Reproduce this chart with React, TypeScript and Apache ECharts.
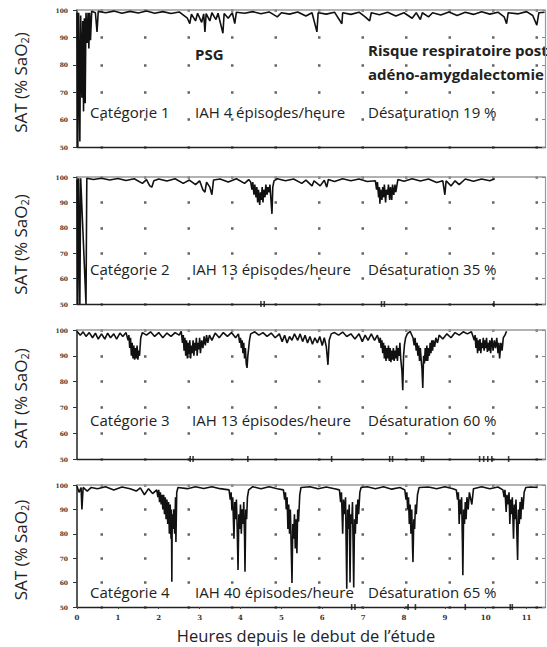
import { useEffect, useRef } from "react";
import * as echarts from "echarts";

const HOUR_MAX = 11.45;
const SAT_MIN = 50;
const SAT_MAX = 100;
const SAT_STEP = 10;

const CATEGORIES = ["Catégorie 1", "Catégorie 2", "Catégorie 3", "Catégorie 4"];
const IAH = ["IAH 4 épisodes/heure", "IAH 13 épisodes/heure", "IAH 13 épisodes/heure", "IAH 40 épisodes/heure"];
const DESAT = ["Désaturation 19 %", "Désaturation 35 %", "Désaturation 60 %", "Désaturation 65 %"];
const HEAD_LEFT = "PSG";
const HEAD_RIGHT = ["Risque respiratoire post", "adéno-amygdalectomie"];
const Y_TITLE = "SAT (% SaO{sub|2})";
const X_TITLE = "Heures depuis le debut de l’étude";

// [hour, SaO2 %]
const TRACE_1: [number, number][] = [
  [0, 99], [0.02, 50], [0.04, 99], [0.07, 52], [0.09, 98], [0.12, 68], [0.14, 96], [0.16, 63], [0.18, 97], [0.2, 66],
  [0.22, 99], [0.25, 88], [0.27, 99], [0.29, 86], [0.31, 99], [0.33, 89], [0.36, 99.5], [0.45, 99], [0.49, 92], [0.52, 99.5],
  [0.7, 99], [0.9, 99.6], [1.1, 98.8], [1.3, 99.5], [1.5, 98.9], [1.7, 99.6], [1.9, 98.8], [2.1, 99.4], [2.3, 98.7], [2.5, 99.3],
  [2.7, 97], [2.76, 95], [2.8, 98.5], [2.9, 96], [2.95, 98.8], [3.05, 95.5], [3.1, 98.6], [3.13, 92], [3.16, 98.7], [3.25, 96],
  [3.3, 99], [3.4, 96.5], [3.45, 98.8], [3.57, 91.5], [3.6, 98.7], [3.7, 97], [3.8, 99], [3.86, 95], [3.9, 99.2], [4.1, 98.8],
  [4.3, 99.4], [4.5, 98.6], [4.7, 99.3], [4.9, 97.5], [5.0, 99], [5.2, 98.5], [5.4, 99.3], [5.6, 97.8], [5.75, 99], [5.87, 92],
  [5.9, 99], [6.1, 98.5], [6.3, 99.2], [6.48, 95], [6.5, 99], [6.7, 98.4], [6.9, 99.2], [7.05, 97.5], [7.16, 96], [7.2, 99],
  [7.4, 98.3], [7.6, 99.2], [7.8, 97.8], [8.0, 99], [8.2, 97], [8.3, 99], [8.4, 96.5], [8.45, 99], [8.6, 97.5], [8.7, 99],
  [8.9, 98.2], [9.1, 99.3], [9.3, 98], [9.5, 99.2], [9.7, 98.4], [9.9, 99.4], [10.1, 98.5], [10.3, 99.2], [10.45, 97.5], [10.51, 95],
  [10.55, 99], [10.8, 98.6], [11.0, 99.4], [11.15, 98], [11.25, 94.5], [11.3, 99], [11.44, 99.2],
];

const TRACE_2: [number, number][] = [
  [0, 99], [0.02, 50], [0.04, 99.5], [0.07, 50], [0.09, 99.5], [0.22, 50], [0.24, 99.5], [0.4, 99], [0.6, 99.5], [0.8, 98.8],
  [1.0, 99.4], [1.2, 98.6], [1.4, 99.3], [1.6, 97.5], [1.7, 99], [1.78, 96.5], [1.83, 96], [1.88, 98.5], [2.0, 99.2], [2.2, 98.4],
  [2.4, 99.3], [2.6, 97.5], [2.75, 98.8], [2.9, 97], [3.0, 98.5], [3.08, 95], [3.13, 94], [3.17, 98], [3.25, 96], [3.3, 93],
  [3.34, 98.8], [3.5, 99.2], [3.7, 98], [3.9, 99.3], [4.1, 97.5], [4.2, 99],
  [4.25, 98], [4.28, 95], [4.3, 98], [4.33, 93], [4.35, 97], [4.38, 92], [4.4, 96], [4.42, 90], [4.44, 95], [4.47, 89],
  [4.49, 94], [4.51, 91], [4.53, 96], [4.55, 90], [4.57, 95], [4.6, 92], [4.62, 97], [4.65, 93], [4.67, 96], [4.7, 94],
  [4.72, 97], [4.75, 90], [4.77, 85.5], [4.79, 96], [4.82, 98.5],
  [4.9, 99.3], [5.1, 98.5], [5.3, 99.2], [5.5, 97.5], [5.6, 98.8], [5.75, 96.5], [5.8, 98.5], [5.95, 96.5], [6.05, 98.7], [6.11, 96],
  [6.15, 99], [6.3, 98.2], [6.5, 99.3], [6.7, 98.5], [6.9, 99.2], [7.1, 98.2],
  [7.3, 98.5], [7.33, 95], [7.35, 98], [7.38, 92], [7.4, 96], [7.41, 89.5], [7.43, 95], [7.46, 91], [7.48, 96], [7.5, 92],
  [7.52, 97], [7.55, 90], [7.57, 95], [7.6, 93], [7.62, 97], [7.65, 91], [7.67, 96], [7.7, 91], [7.72, 97], [7.75, 93],
  [7.78, 97], [7.8, 94], [7.85, 99],
  [8.0, 98.3], [8.2, 99.3], [8.4, 98.4], [8.6, 99.2], [8.8, 97.8], [8.95, 98.5], [9.0, 93], [9.03, 98.5], [9.15, 96.5], [9.25, 98.5],
  [9.35, 97], [9.5, 99.2], [9.7, 98.3], [9.9, 99.2], [10.1, 98.5], [10.22, 99.3],
];

const TRACE_3: [number, number][] = [
  [0, 99.5], [0.08, 98], [0.15, 99.3], [0.22, 97.5], [0.3, 99], [0.38, 97], [0.45, 98.8], [0.52, 96.5], [0.6, 98.5], [0.68, 96.5],
  [0.75, 98.8], [0.82, 97], [0.9, 98.5], [0.97, 96.5], [1.05, 98.8], [1.12, 97.5], [1.2, 99],
  [1.25, 96], [1.27, 98], [1.29, 93], [1.31, 97], [1.33, 90], [1.35, 95], [1.37, 89], [1.39, 94], [1.41, 88.5], [1.43, 93],
  [1.45, 89], [1.47, 94], [1.49, 88.5], [1.51, 92], [1.53, 90], [1.56, 97], [1.6, 99],
  [1.7, 98], [1.8, 99.3], [1.9, 97.5], [2.0, 99], [2.1, 97], [2.2, 98.8], [2.3, 97.5], [2.4, 99], [2.5, 98], [2.55, 99.5],
  [2.58, 95], [2.6, 98], [2.62, 92], [2.64, 97], [2.66, 90], [2.68, 96], [2.7, 89], [2.72, 95], [2.74, 90.5], [2.76, 96],
  [2.78, 89], [2.8, 94], [2.82, 91], [2.84, 96], [2.86, 90], [2.88, 95], [2.9, 92], [2.92, 97], [2.94, 90], [2.96, 95],
  [2.98, 92.5], [3.0, 97], [3.02, 91], [3.05, 96], [3.08, 93], [3.11, 97.5], [3.14, 94], [3.17, 98], [3.2, 95], [3.24, 98],
  [3.3, 96], [3.38, 98.8], [3.48, 97], [3.58, 99], [3.68, 97.5], [3.78, 99], [3.88, 97], [3.95, 98.5],
  [3.98, 95], [4.0, 97], [4.02, 93], [4.04, 96], [4.06, 91], [4.08, 95], [4.1, 89], [4.12, 93], [4.14, 87], [4.16, 85.3],
  [4.18, 90], [4.2, 93], [4.22, 96], [4.25, 98.5],
  [4.35, 99.3], [4.45, 98], [4.55, 99], [4.65, 97.5], [4.75, 98.8], [4.85, 97], [4.95, 98.5], [5.02, 95.5], [5.08, 98], [5.14, 95],
  [5.2, 97.5], [5.26, 96], [5.32, 98.5], [5.4, 96], [5.46, 98.5], [5.52, 95.5], [5.58, 98], [5.64, 95], [5.7, 97.5], [5.76, 94.5],
  [5.82, 97], [5.88, 95], [5.94, 97.5], [6.0, 94], [6.05, 97], [6.1, 93.5], [6.14, 86.5], [6.17, 96], [6.22, 98.5],
  [6.3, 99], [6.4, 98], [6.5, 99.2], [6.6, 97.5], [6.7, 98.5], [6.8, 96.5], [6.9, 98.5], [6.98, 95.5], [7.05, 98], [7.12, 96],
  [7.2, 98.5], [7.28, 96], [7.35, 98],
  [7.4, 95], [7.42, 97], [7.44, 93], [7.46, 96], [7.48, 91], [7.5, 95], [7.52, 89], [7.54, 94], [7.56, 88], [7.58, 93],
  [7.6, 89], [7.62, 94], [7.64, 88], [7.66, 93], [7.68, 87.5], [7.7, 92], [7.72, 88.5], [7.74, 93], [7.76, 88], [7.78, 92],
  [7.8, 89], [7.82, 94], [7.84, 88], [7.86, 93], [7.88, 90], [7.9, 95], [7.92, 89], [7.95, 84], [7.97, 76.7], [7.99, 90],
  [8.01, 94], [8.04, 97], [8.08, 98.5], [8.15, 99.5],
  [8.22, 97], [8.25, 94], [8.27, 97], [8.3, 92], [8.32, 95], [8.34, 90], [8.36, 94], [8.38, 88], [8.4, 93], [8.42, 88.5],
  [8.44, 85], [8.46, 77.5], [8.48, 90], [8.5, 87], [8.52, 93], [8.54, 88], [8.56, 94], [8.58, 88], [8.6, 93], [8.62, 90],
  [8.64, 95], [8.66, 91], [8.68, 96], [8.7, 92], [8.72, 96], [8.75, 93.5], [8.78, 97], [8.82, 95], [8.86, 98],
  [8.95, 96.5], [9.05, 98.5], [9.15, 97], [9.25, 99], [9.35, 98], [9.45, 99.3], [9.55, 98.5], [9.65, 99.3],
  [9.72, 96], [9.74, 98], [9.76, 93], [9.78, 97], [9.8, 91], [9.82, 96], [9.84, 92], [9.86, 96.5], [9.88, 91], [9.9, 95],
  [9.92, 93], [9.94, 97], [9.96, 92], [9.98, 96], [10.0, 93], [10.02, 97], [10.04, 91.5], [10.06, 95], [10.08, 92], [10.1, 96],
  [10.12, 91], [10.15, 97], [10.18, 92], [10.21, 96], [10.24, 93], [10.27, 97], [10.3, 91], [10.32, 95], [10.34, 89], [10.37, 95],
  [10.4, 92], [10.43, 97], [10.47, 98], [10.51, 99.5],
];

const TRACE_4: [number, number][] = [
  [0, 99.5], [0.05, 97], [0.1, 99], [0.12, 90], [0.15, 99], [0.25, 97.5], [0.35, 99], [0.5, 98.5], [0.7, 99.3], [0.9, 98],
  [1.1, 99.2], [1.3, 98.5], [1.45, 97.5], [1.55, 98.8], [1.65, 96], [1.75, 98.5], [1.85, 96.5], [1.95, 98],
  [1.98, 95], [2.0, 98], [2.02, 93], [2.04, 97], [2.06, 92], [2.08, 96], [2.1, 90], [2.12, 96], [2.14, 88], [2.16, 95],
  [2.18, 86], [2.2, 94], [2.22, 84], [2.24, 93], [2.26, 80], [2.28, 92], [2.3, 78], [2.31, 90], [2.32, 60.3], [2.33, 88],
  [2.35, 82], [2.37, 90], [2.39, 80], [2.41, 95], [2.42, 76.6], [2.44, 97], [2.47, 99],
  [2.7, 98.5], [2.9, 99.3], [3.1, 98.6], [3.3, 99.3], [3.5, 98.5], [3.72, 98],
  [3.75, 94], [3.77, 97], [3.79, 90], [3.81, 95], [3.84, 78], [3.86, 93], [3.88, 86], [3.9, 94], [3.92, 82], [3.94, 65.2],
  [3.96, 88], [3.98, 82], [4.0, 92], [4.02, 80], [4.04, 90], [4.06, 84], [4.08, 93], [4.1, 78], [4.11, 64.4], [4.13, 90],
  [4.15, 86], [4.17, 95], [4.2, 98],
  [4.3, 99.3], [4.5, 98.5], [4.7, 99.3], [4.9, 98.5], [5.05, 98],
  [5.08, 94], [5.1, 97], [5.12, 90], [5.14, 95], [5.16, 82], [5.18, 92], [5.2, 80], [5.22, 90], [5.24, 75], [5.26, 59.8],
  [5.28, 84], [5.3, 78], [5.32, 88], [5.34, 74], [5.36, 86], [5.38, 72], [5.4, 90], [5.42, 85], [5.45, 96], [5.48, 99],
  [5.7, 99.3], [5.9, 98.5], [6.1, 99.2], [6.3, 98.5], [6.42, 98],
  [6.45, 93], [6.47, 97], [6.5, 80], [6.52, 94], [6.55, 88], [6.57, 95], [6.6, 57.5], [6.62, 90], [6.64, 82], [6.66, 92],
  [6.68, 60], [6.7, 88], [6.72, 84], [6.74, 93], [6.77, 58], [6.79, 86], [6.81, 80], [6.83, 92], [6.85, 84], [6.87, 94],
  [6.89, 88], [6.92, 97], [6.95, 99],
  [7.1, 99.3], [7.3, 98.5], [7.5, 99.3], [7.7, 98.3], [7.9, 99], [8.02, 98],
  [8.05, 94], [8.07, 97], [8.09, 90], [8.11, 95], [8.13, 84], [8.15, 92], [8.17, 80], [8.19, 90], [8.21, 74], [8.22, 68.4],
  [8.24, 86], [8.26, 82], [8.28, 92], [8.3, 88], [8.33, 96], [8.37, 99],
  [8.6, 99.2], [8.8, 98.5], [9.0, 99.3], [9.2, 98.5], [9.28, 98],
  [9.31, 94], [9.33, 97], [9.35, 84], [9.37, 94], [9.39, 88], [9.41, 95], [9.43, 76], [9.44, 63], [9.46, 90], [9.48, 84],
  [9.5, 93], [9.52, 86], [9.54, 95], [9.57, 90], [9.6, 97], [9.66, 92], [9.7, 98.5],
  [9.9, 99.3], [10.1, 98.5], [10.3, 99.2], [10.42, 98],
  [10.45, 95], [10.47, 98], [10.5, 89], [10.52, 96], [10.55, 92], [10.57, 97], [10.59, 84], [10.61, 94], [10.63, 88], [10.65, 95],
  [10.68, 78], [10.7, 92], [10.72, 86], [10.74, 94], [10.77, 75], [10.78, 69.3], [10.8, 90], [10.82, 84], [10.84, 93], [10.86, 86],
  [10.88, 95], [10.91, 90], [10.94, 97], [10.98, 99],
  [11.1, 99.2], [11.27, 99],
];

// event marks on the baseline (hours)
const EVENTS_1: number[] = [];
const EVENTS_2 = [4.5, 4.58, 7.45, 7.52, 10.2];
const EVENTS_3 = [2.77, 2.84, 4.18, 6.23, 7.65, 7.72, 8.43, 8.48, 9.85, 9.95, 10.05, 10.15, 10.56];
const EVENTS_4 = [6.72, 6.8, 8.1, 8.28, 9.5, 10.6, 10.65];

const TRACES = [TRACE_1, TRACE_2, TRACE_3, TRACE_4];
const EVENTS = [EVENTS_1, EVENTS_2, EVENTS_3, EVENTS_4];

const PANELS = [
  { top: 10, height: 137, textY: 112 },
  { top: 177, height: 127, textY: 269 },
  { top: 330, height: 129, textY: 420 },
  { top: 485, height: 122, textY: 592 },
];
const LEFT = 77;
const RIGHT = 2;
const FONT = "'Open Sans', 'Noto Sans', sans-serif";

export default function App() {
  const ref = useRef<HTMLDivElement>(null);
  useEffect(() => {
    if (!ref.current) return;
    const chart = echarts.init(ref.current, undefined, { renderer: "svg" });
    const grid: any[] = [];
    const xAxis: any[] = [];
    const yAxis: any[] = [];
    const series: any[] = [];
    const graphic: any[] = [];
    PANELS.forEach((p, i) => {
      grid.push({ left: LEFT, right: RIGHT, top: p.top, height: p.height });
      const last = i === PANELS.length - 1;
      xAxis.push({
        type: "value", gridIndex: i, min: 0, max: HOUR_MAX, interval: 1,
        axisLine: { show: true, onZero: false, lineStyle: { color: "#222", width: 1.3 } },
        axisTick: { show: last, length: 2, lineStyle: { color: "#444" } },
        axisLabel: {
          show: last, fontSize: 7, fontWeight: "bold", color: "#333", margin: 7, fontFamily: "DejaVu Serif",
          showMaxLabel: false,
        },
        splitLine: { show: false },
      });
      xAxis.push({
        type: "value", gridIndex: i, position: "top", min: 0, max: HOUR_MAX,
        axisLine: { show: true, onZero: false, lineStyle: { color: "#999", width: 1.5 } },
        axisTick: { show: false }, axisLabel: { show: false }, splitLine: { show: false },
      });
      yAxis.push({
        type: "value", gridIndex: i, min: SAT_MIN, max: SAT_MAX, interval: SAT_STEP,
        axisLine: { show: true, onZero: false, lineStyle: { color: "#222", width: 1.5 } },
        axisTick: { show: true, length: 4, lineStyle: { color: "#333" } },
        axisLabel: { fontSize: 6, fontWeight: "bold", color: "#333", margin: 9, fontFamily: "DejaVu Serif" },
        splitLine: { show: true, lineStyle: { color: "#666", width: 2.5, type: [2.5, 41], dashOffset: 20 } },
      });
      yAxis.push({
        type: "value", gridIndex: i, position: "right", min: SAT_MIN, max: SAT_MAX, interval: SAT_STEP,
        axisLine: { show: true, onZero: false, lineStyle: { color: "#9a9a9a", width: 1.2 } },
        axisTick: { show: true, inside: true, length: 3, lineStyle: { color: "#888" } },
        axisLabel: { show: false }, splitLine: { show: false },
      });
      series.push({
        type: "line", xAxisIndex: i * 2, yAxisIndex: i * 2, data: TRACES[i],
        symbol: "none", lineStyle: { color: "#111", width: 1.6 }, silent: true, z: 3,
      });
      series.push({
        type: "scatter", xAxisIndex: i * 2, yAxisIndex: i * 2,
        data: EVENTS[i].map((h) => [h, SAT_MIN]),
        symbol: "rect", symbolSize: [1.6, 6], itemStyle: { color: "#111" }, silent: true, z: 4,
      });
      const txt = (text: string, x: number, y: number, extra: any = {}) => ({
        type: "text", x, y, silent: true, z: 10,
        style: { text, fontSize: 15, fontFamily: FONT, fill: "#222", verticalAlign: "middle", ...extra },
      });
      graphic.push(txt(CATEGORIES[i], 90, p.textY));
      graphic.push(txt(IAH[i], i === 0 || i === 3 ? 195 : 192, p.textY));
      graphic.push(txt(DESAT[i], 368, p.textY));
      graphic.push({
        type: "text", x: 20, y: p.top + p.height / 2 + 4, rotation: Math.PI / 2, silent: true,
        style: {
          text: Y_TITLE, fontSize: 17, fontFamily: FONT, fill: "#222", align: "center", verticalAlign: "middle",
          rich: { sub: { fontSize: 11, fontFamily: FONT, fill: "#222", padding: [8, 0, 0, 0] } },
        },
      });
    });
    graphic.push({
      type: "text", x: 195, y: 54, silent: true,
      style: { text: HEAD_LEFT, fontSize: 15, fontWeight: "bold", fontFamily: FONT, fill: "#222", verticalAlign: "middle" },
    });
    HEAD_RIGHT.forEach((t, k) => {
      graphic.push({
        type: "text", x: 368, y: 50 + k * 24, silent: true,
        style: { text: t, fontSize: 15, fontWeight: "bold", fontFamily: FONT, fill: "#222", verticalAlign: "middle" },
      });
    });
    graphic.push({
      type: "text", x: 306, y: 635, silent: true,
      style: { text: X_TITLE, fontSize: 16.5, fontFamily: FONT, fill: "#222", align: "center", verticalAlign: "middle" },
    });
    chart.setOption({
      animation: false,
      backgroundColor: "#fff",
      grid, xAxis, yAxis, series, graphic,
    });
    return () => chart.dispose();
  }, []);
  return <div ref={ref} style={{ position: "fixed", left: 0, top: 0, width: 547, height: 647 }} />;
}
